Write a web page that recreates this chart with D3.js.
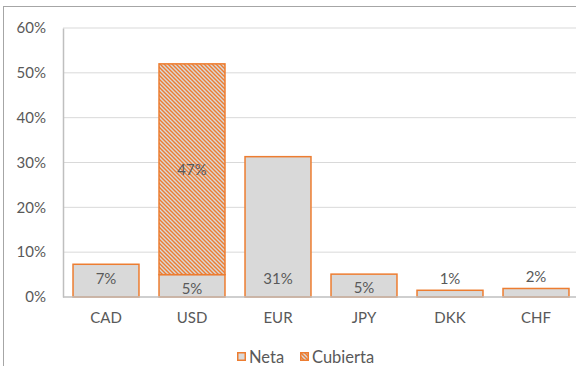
<!DOCTYPE html>
<html>
<head>
<meta charset="utf-8">
<script src="https://cdn.jsdelivr.net/npm/d3@7"></script>
<style>
  html, body { margin: 0; padding: 0; background: #fff; }
  svg { display: block; font-family: Lato, "Liberation Sans", sans-serif; }
</style>
</head>
<body>
<svg id="chart" width="576" height="366"></svg>
<script>
// Currency exposure: net vs. hedged share
const currencies = ["CAD", "USD", "EUR", "JPY", "DKK", "CHF"];
const neta = [7.3, 5.0, 31.3, 5.1, 1.5, 1.9];
const cubierta = [0, 47.0, 0, 0, 0, 0];
const netaLabels = ["7%", "5%", "31%", "5%", "1%", "2%"];
const cubiertaLabels = ["", "47%", "", "", "", ""];
const yTicks = [0, 10, 20, 30, 40, 50, 60];
const seriesNames = ["Neta", "Cubierta"];

const W = 576, H = 366;
const margin = { left: 63, top: 28, right: -3, bottom: 69 };
const orange = "#ED7D31", grey = "#D9D9D9", text = "#595959";
const fontSize = 15;

const svg = d3.select("#chart");

// hatch pattern for the hedged segment
const defs = svg.append("defs");
const pat = defs.append("pattern")
  .attr("id", "hatch").attr("patternUnits", "userSpaceOnUse")
  .attr("width", 4).attr("height", 4);
pat.append("rect").attr("width", 4).attr("height", 4).attr("fill", grey);
pat.append("path")
  .attr("d", "M-1,-1 L5,5 M-1,3 L1,5 M3,-1 L5,1")
  .attr("stroke", orange).attr("stroke-width", 1.4);

// chart frame
svg.append("rect").attr("x", 3.5).attr("y", 6.5)
  .attr("width", W + 10).attr("height", H + 10)
  .attr("fill", "none").attr("stroke", "#A6A6A6").attr("stroke-width", 1);

const x = d3.scaleBand().domain(currencies)
  .range([margin.left, W - margin.right]).paddingInner(0.233).paddingOuter(0.1165);
const y = d3.scaleLinear().domain([0, 60]).range([H - margin.bottom, margin.top]);

// gridlines
svg.append("g").selectAll("line").data(yTicks.filter(d => d > 0)).join("line")
  .attr("x1", margin.left).attr("x2", W - margin.right)
  .attr("y1", d => y(d)).attr("y2", d => y(d))
  .attr("stroke", grey).attr("stroke-width", 1);

// y axis
const yAxis = d3.axisLeft(y).tickValues(yTicks).tickSize(0).tickPadding(17)
  .tickFormat(d => d + "%");
const gy = svg.append("g").attr("transform", `translate(${margin.left},0)`).call(yAxis);
gy.select(".domain").attr("stroke", "#BFBFBF").attr("stroke-width", 1.5);
gy.selectAll("text").attr("fill", text).attr("font-size", fontSize)
  .attr("font-family", "Lato, sans-serif");

// stacked bars
const stackData = currencies.map((c, i) => ({ c, Neta: neta[i], Cubierta: cubierta[i] }));
const stacked = d3.stack().keys(seriesNames)(stackData);

const bars = svg.append("g");
stacked.forEach((layer, li) => {
  bars.selectAll(null).data(layer.filter(d => d[1] > d[0])).join("rect")
    .attr("x", d => x(d.data.c))
    .attr("width", x.bandwidth())
    .attr("y", d => y(d[1]))
    .attr("height", d => y(d[0]) - y(d[1]))
    .attr("fill", li === 0 ? grey : "url(#hatch)")
    .attr("stroke", orange).attr("stroke-width", 1.5);
});

// x axis baseline and labels
const xAxis = d3.axisBottom(x).tickSize(0).tickPadding(15);
const gx = svg.append("g").attr("transform", `translate(0,${y(0)})`).call(xAxis);
gx.select(".domain").attr("stroke", "#BFBFBF").attr("stroke-width", 1.5)
  .attr("d", `M${margin.left},0H${W - margin.right}`);
gx.selectAll("text").attr("fill", text).attr("font-size", fontSize)
  .attr("font-family", "Lato, sans-serif");

// data labels
const labels = svg.append("g").attr("fill", text).attr("font-size", fontSize)
  .attr("text-anchor", "middle").attr("dominant-baseline", "central");
currencies.forEach((c, i) => {
  const cx = x(c) + x.bandwidth() / 2;
  let ly;
  if (neta[i] >= 3) ly = Math.max(y(neta[i]) + 13, y(4.2));
  else ly = y(neta[i]) - 12;
  labels.append("text").attr("x", cx).attr("y", ly).text(netaLabels[i]);
  if (cubierta[i] > 0) {
    labels.append("text").attr("x", cx)
      .attr("y", (y(neta[i]) + y(neta[i] + cubierta[i])) / 2)
      .text(cubiertaLabels[i]);
  }
});

// legend
const legend = svg.append("g").attr("font-size", 16.5).attr("fill", text);
const legendX = [237, 300];
seriesNames.forEach((s, i) => {
  legend.append("rect").attr("x", legendX[i] + 0.75).attr("y", 352.75)
    .attr("width", 7.5).attr("height", 7.5)
    .attr("fill", i === 0 ? grey : "url(#hatch)")
    .attr("stroke", orange).attr("stroke-width", 1.5);
  legend.append("text").attr("x", legendX[i] + 12).attr("y", 356.5)
    .attr("dominant-baseline", "central").text(s);
});
</script>
</body>
</html>
